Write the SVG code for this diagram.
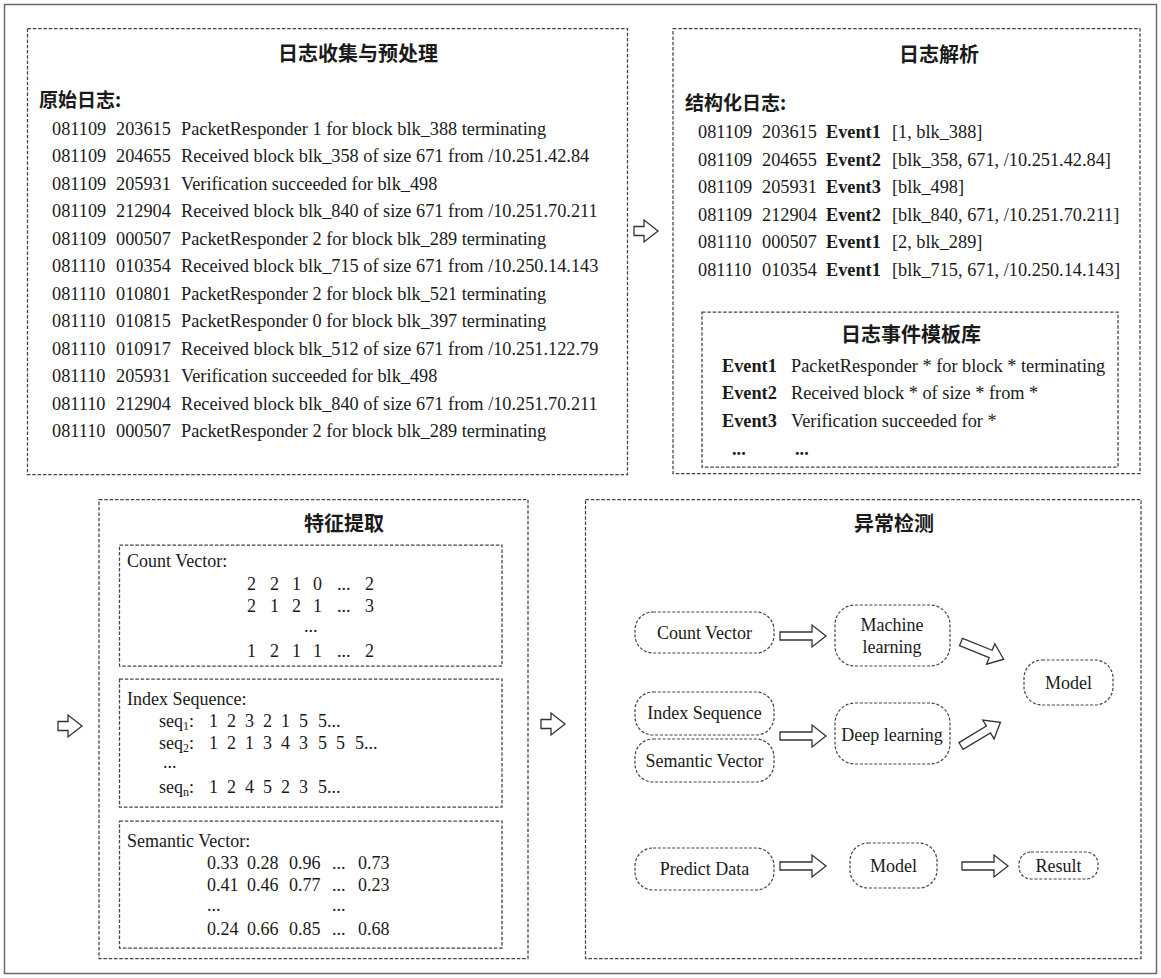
<svg xmlns="http://www.w3.org/2000/svg" xmlns:xlink="http://www.w3.org/1999/xlink" width="1161" height="978" viewBox="0 0 1161 978">
<style>
.frame{fill:#fff;stroke:#6a6a6a;stroke-width:1.5}
.dash{fill:none;stroke:#444;stroke-width:1.25;stroke-dasharray:3.5 1.8}
.pill{fill:none;stroke:#444;stroke-width:1.2;stroke-dasharray:3 1.8}
.t{font-family:"Liberation Serif","Times New Roman",serif;font-size:18.3px;fill:#1a1a1a}
.s{font-family:"Liberation Serif","Times New Roman",serif;font-size:18px;fill:#1a1a1a}
.m{text-anchor:middle}
.b{font-weight:bold}
.cj{font-family:"Noto Sans CJK SC","Noto Sans CJK JP",sans-serif;font-weight:bold;font-size:20px;fill:#1a1a1a}
.cs{font-family:"Noto Sans CJK SC","Noto Sans CJK JP",sans-serif;font-weight:bold;font-size:19px;fill:#1a1a1a}
.arr{fill:#fff;stroke:#333;stroke-width:1.3;stroke-linejoin:miter}
</style>
<defs>
<path id="sa" d="M0,-4.5 H10 V-11 L24,0 L10,11 V4.5 H0 Z"/>
<path id="da" d="M0,-4 H32 V-11 L46,0 L32,11 V4 H0 Z"/>
</defs>
<rect class="frame" x="4.5" y="4.5" width="1152" height="969"/>

<g id="box-collect">
<rect class="dash" x="27.5" y="28.5" width="600" height="446"/>
<text class="cj m" x="358" y="61">日志收集与预处理</text>
<text class="cs" x="39" y="107">原始日志:</text>
<g class="t">
<text y="134.5"><tspan x="52">081109</tspan><tspan x="116">203615</tspan><tspan x="181">PacketResponder 1 for block blk_388 terminating</tspan></text>
<text y="162"><tspan x="52">081109</tspan><tspan x="116">204655</tspan><tspan x="181">Received block blk_358 of size 671 from /10.251.42.84</tspan></text>
<text y="189.5"><tspan x="52">081109</tspan><tspan x="116">205931</tspan><tspan x="181">Verification succeeded for blk_498</tspan></text>
<text y="217"><tspan x="52">081109</tspan><tspan x="116">212904</tspan><tspan x="181">Received block blk_840 of size 671 from /10.251.70.211</tspan></text>
<text y="244.5"><tspan x="52">081109</tspan><tspan x="116">000507</tspan><tspan x="181">PacketResponder 2 for block blk_289 terminating</tspan></text>
<text y="272"><tspan x="52">081110</tspan><tspan x="116">010354</tspan><tspan x="181">Received block blk_715 of size 671 from /10.250.14.143</tspan></text>
<text y="299.5"><tspan x="52">081110</tspan><tspan x="116">010801</tspan><tspan x="181">PacketResponder 2 for block blk_521 terminating</tspan></text>
<text y="327"><tspan x="52">081110</tspan><tspan x="116">010815</tspan><tspan x="181">PacketResponder 0 for block blk_397 terminating</tspan></text>
<text y="354.5"><tspan x="52">081110</tspan><tspan x="116">010917</tspan><tspan x="181">Received block blk_512 of size 671 from /10.251.122.79</tspan></text>
<text y="382"><tspan x="52">081110</tspan><tspan x="116">205931</tspan><tspan x="181">Verification succeeded for blk_498</tspan></text>
<text y="409.5"><tspan x="52">081110</tspan><tspan x="116">212904</tspan><tspan x="181">Received block blk_840 of size 671 from /10.251.70.211</tspan></text>
<text y="437"><tspan x="52">081110</tspan><tspan x="116">000507</tspan><tspan x="181">PacketResponder 2 for block blk_289 terminating</tspan></text>
</g>
</g>

<g id="box-parse">
<rect class="dash" x="673" y="28.5" width="467" height="445"/>
<text class="cj m" x="939" y="62">日志解析</text>
<text class="cs" x="685" y="110">结构化日志:</text>
<g class="t">
<text y="138"><tspan x="698">081109</tspan><tspan x="762">203615</tspan><tspan x="826" class="b">Event1</tspan><tspan x="892">[1, blk_388]</tspan></text>
<text y="165.5"><tspan x="698">081109</tspan><tspan x="762">204655</tspan><tspan x="826" class="b">Event2</tspan><tspan x="892">[blk_358, 671, /10.251.42.84]</tspan></text>
<text y="193"><tspan x="698">081109</tspan><tspan x="762">205931</tspan><tspan x="826" class="b">Event3</tspan><tspan x="892">[blk_498]</tspan></text>
<text y="220.5"><tspan x="698">081109</tspan><tspan x="762">212904</tspan><tspan x="826" class="b">Event2</tspan><tspan x="892">[blk_840, 671, /10.251.70.211]</tspan></text>
<text y="248"><tspan x="698">081110</tspan><tspan x="762">000507</tspan><tspan x="826" class="b">Event1</tspan><tspan x="892">[2, blk_289]</tspan></text>
<text y="275.5"><tspan x="698">081110</tspan><tspan x="762">010354</tspan><tspan x="826" class="b">Event1</tspan><tspan x="892">[blk_715, 671, /10.250.14.143]</tspan></text>
</g>
<g id="template-lib">
<rect class="dash" x="702" y="312" width="416" height="155"/>
<text class="cj m" x="911" y="342">日志事件模板库</text>
<g class="t">
<text y="372"><tspan x="722" class="b">Event1</tspan><tspan x="791">PacketResponder * for block * terminating</tspan></text>
<text y="399"><tspan x="722" class="b">Event2</tspan><tspan x="791">Received block * of size * from *</tspan></text>
<text y="427"><tspan x="722" class="b">Event3</tspan><tspan x="791">Verification succeeded for *</tspan></text>
<text y="455" class="b"><tspan x="732">...</tspan><tspan x="795">...</tspan></text>
</g>
</g>
</g>

<g id="box-feature">
<rect class="dash" x="99" y="499.5" width="429" height="459"/>
<text class="cj m" x="344" y="531">特征提取</text>
<g id="count-vector">
<rect class="dash" x="119.5" y="545" width="382.5" height="121"/>
<g class="s">
<text x="127" y="567">Count Vector:</text>
<text y="590"><tspan x="247 270 292 313">2210</tspan><tspan x="337">...</tspan><tspan x="365">2</tspan></text>
<text y="612"><tspan x="247 270 292 313">2121</tspan><tspan x="337">...</tspan><tspan x="365">3</tspan></text>
<text x="304" y="632">...</text>
<text y="657"><tspan x="247 270 292 313">1211</tspan><tspan x="337">...</tspan><tspan x="365">2</tspan></text>
</g>
</g>
<g id="index-sequence">
<rect class="dash" x="119.5" y="679" width="382.5" height="128"/>
<g class="s">
<text x="127" y="705">Index Sequence:</text>
<text y="727"><tspan x="159">seq</tspan><tspan font-size="12" dy="3">1</tspan><tspan dy="-3">:</tspan><tspan x="209 227 245 263 281 299 318">1232155...</tspan></text>
<text y="749"><tspan x="159">seq</tspan><tspan font-size="12" dy="3">2</tspan><tspan dy="-3">:</tspan><tspan x="209 227 245 263 281 299 318 336 355">121343555...</tspan></text>
<text x="163" y="768">...</text>
<text y="793"><tspan x="159">seq</tspan><tspan font-size="12" dy="3">n</tspan><tspan dy="-3">:</tspan><tspan x="209 227 245 263 281 299 318">1245235...</tspan></text>
</g>
</g>
<g id="semantic-vector">
<rect class="dash" x="119.5" y="821" width="382.5" height="127"/>
<g class="s">
<text x="127" y="847">Semantic Vector:</text>
<text y="869"><tspan x="207">0.33</tspan><tspan x="247">0.28</tspan><tspan x="289">0.96</tspan><tspan x="332">...</tspan><tspan x="358">0.73</tspan></text>
<text y="891"><tspan x="207">0.41</tspan><tspan x="247">0.46</tspan><tspan x="289">0.77</tspan><tspan x="332">...</tspan><tspan x="358">0.23</tspan></text>
<text y="911"><tspan x="207">...</tspan><tspan x="332">...</tspan></text>
<text y="935"><tspan x="207">0.24</tspan><tspan x="247">0.66</tspan><tspan x="289">0.85</tspan><tspan x="332">...</tspan><tspan x="358">0.68</tspan></text>
</g>
</g>
</g>

<g id="box-detect">
<rect class="dash" x="585.5" y="499.5" width="555.5" height="459"/>
<text class="cj m" x="894" y="531">异常检测</text>
<g id="n-count"><rect class="pill" x="635" y="612" width="139" height="41" rx="18"/><text class="s m" x="704.5" y="639">Count Vector</text></g>
<g id="n-ml"><rect class="pill" x="835" y="605" width="115" height="61" rx="20"/><text class="s m" x="892" y="631">Machine</text><text class="s m" x="892" y="653">learning</text></g>
<g id="n-model1"><rect class="pill" x="1024" y="660" width="89" height="45" rx="18"/><text class="s m" x="1068.5" y="689">Model</text></g>
<g id="n-index"><rect class="pill" x="635" y="692" width="139" height="43" rx="18"/><text class="s m" x="704.5" y="719">Index Sequence</text></g>
<g id="n-dl"><rect class="pill" x="835" y="703" width="115" height="61" rx="20"/><text class="s m" x="892" y="741">Deep learning</text></g>
<g id="n-semantic"><rect class="pill" x="635" y="739" width="139" height="43" rx="18"/><text class="s m" x="704.5" y="767">Semantic Vector</text></g>
<g id="n-predict"><rect class="pill" x="635" y="848" width="139" height="42" rx="18"/><text class="s m" x="704.5" y="875">Predict Data</text></g>
<g id="n-model2"><rect class="pill" x="850" y="843" width="87" height="45" rx="18"/><text class="s m" x="893.5" y="872">Model</text></g>
<g id="n-result"><rect class="pill" x="1019" y="852" width="79" height="27" rx="12"/><text class="s m" x="1058.5" y="872">Result</text></g>
</g>

<g id="connectors">
<use href="#sa" class="arr" transform="translate(634,231)"/>
<use href="#sa" class="arr" transform="translate(58,726)"/>
<use href="#sa" class="arr" transform="translate(541,724)"/>
<use href="#da" class="arr" transform="translate(780,636)"/>
<use href="#da" class="arr" transform="translate(780,736)"/>
<use href="#da" class="arr" transform="translate(780,866)"/>
<use href="#da" class="arr" transform="translate(962,866)"/>
<use href="#da" class="arr" transform="translate(961,642) rotate(22)"/>
<use href="#da" class="arr" transform="translate(961,746) rotate(-31)"/>
</g>
</svg>
